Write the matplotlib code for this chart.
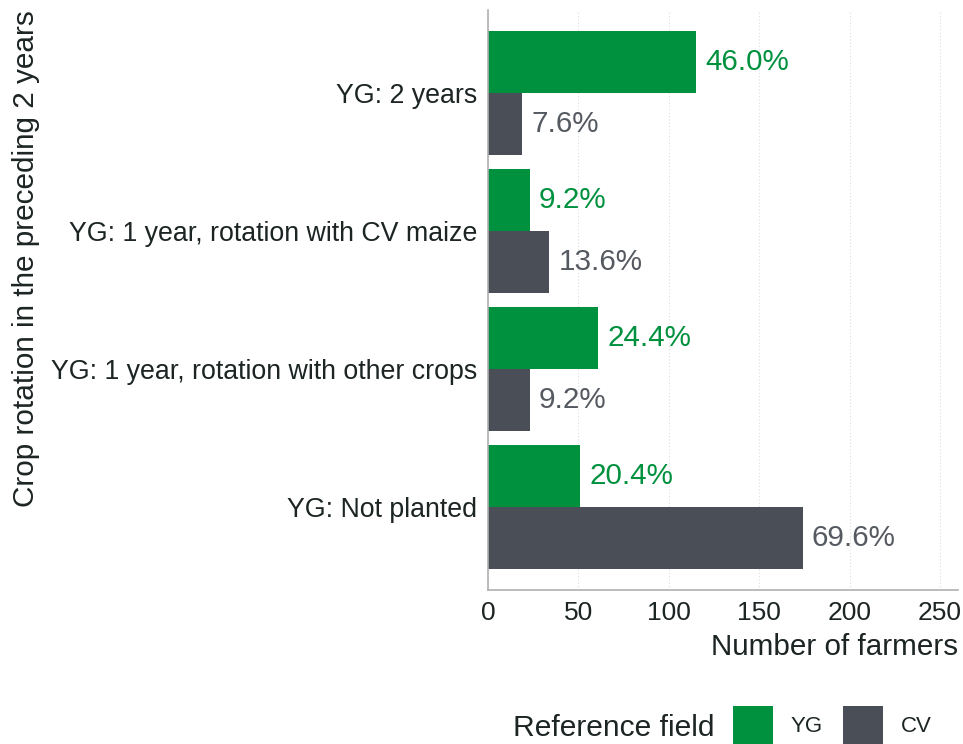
import matplotlib.pyplot as plt
from matplotlib.patches import Patch
import numpy as np

plt.rcParams['font.family'] = ['Liberation Sans', 'DejaVu Sans']

# categories from bottom to top
categories = ['YG: Not planted', 'YG: 1 year, rotation with other crops',
              'YG: 1 year, rotation with CV maize', 'YG: 2 years']
yg_counts = [51, 61, 23, 115]
cv_counts = [174, 23, 34, 19]
yg_pct = ['20.4%', '24.4%', '9.2%', '46.0%']
cv_pct = ['69.6%', '9.2%', '13.6%', '7.6%']

green = '#00913f'
grey = '#4a4f57'
green_txt = '#00913f'
grey_txt = '#555a61'
txt = '#1c2424'

fig = plt.figure(figsize=(9.63, 7.44), dpi=100)
ax = fig.add_axes([488/963, 1-590/744, 470/963, 580/744])

y = np.arange(1, len(categories) + 1)
w = 0.45
ax.barh(y + w/2, yg_counts, height=w, color=green, label='YG')
ax.barh(y - w/2, cv_counts, height=w, color=grey, label='CV')

for yi, v, p in zip(y, yg_counts, yg_pct):
    ax.text(v + 5, yi + w/2, p, va='center', ha='left', fontsize=21.3, color=green_txt)
for yi, v, p in zip(y, cv_counts, cv_pct):
    ax.text(v + 5, yi - w/2, p, va='center', ha='left', fontsize=21.3, color=grey_txt)

ax.set_xlim(0, 260)
ax.set_ylim(0.4, 4.6)
ax.set_xticks([0, 50, 100, 150, 200, 250])
ax.set_yticks(y)
ax.set_yticklabels(categories)
ax.tick_params(axis='both', length=0, colors=txt)
ax.tick_params(axis='y', labelsize=19.3, pad=8)
ax.tick_params(axis='x', labelsize=19, pad=8)
ax.grid(axis='x', color='#dddddd', linestyle=(0, (1, 2)), linewidth=0.8)
ax.set_axisbelow(True)
for s in ['top', 'right']:
    ax.spines[s].set_visible(False)
for s in ['left', 'bottom']:
    ax.spines[s].set_color('#b0b0b0')
    ax.spines[s].set_linewidth(1.2)

ax.set_xlabel('Number of farmers', fontsize=21.3, color=txt, loc='right', labelpad=6)
ax.set_ylabel('Crop rotation in the preceding 2 years', fontsize=21.4, color=txt, loc='top')
ax.yaxis.set_label_coords(-0.953, 1.0)

fig.text(513/963, 1-728/744, 'Reference field', fontsize=21.6, color=txt, va='center', ha='left')
handles = [Patch(facecolor=green, label='YG'), Patch(facecolor=grey, label='CV')]
fig.legend(handles=handles, loc='center left', bbox_to_anchor=(733/963, 1-725/744),
           ncol=2, frameon=False, fontsize=16, handlelength=1.8, handleheight=2.3,
           handletextpad=0.8, columnspacing=0.9, borderpad=0, borderaxespad=0,
           labelcolor=txt)

plt.savefig('out.png', dpi=100)
